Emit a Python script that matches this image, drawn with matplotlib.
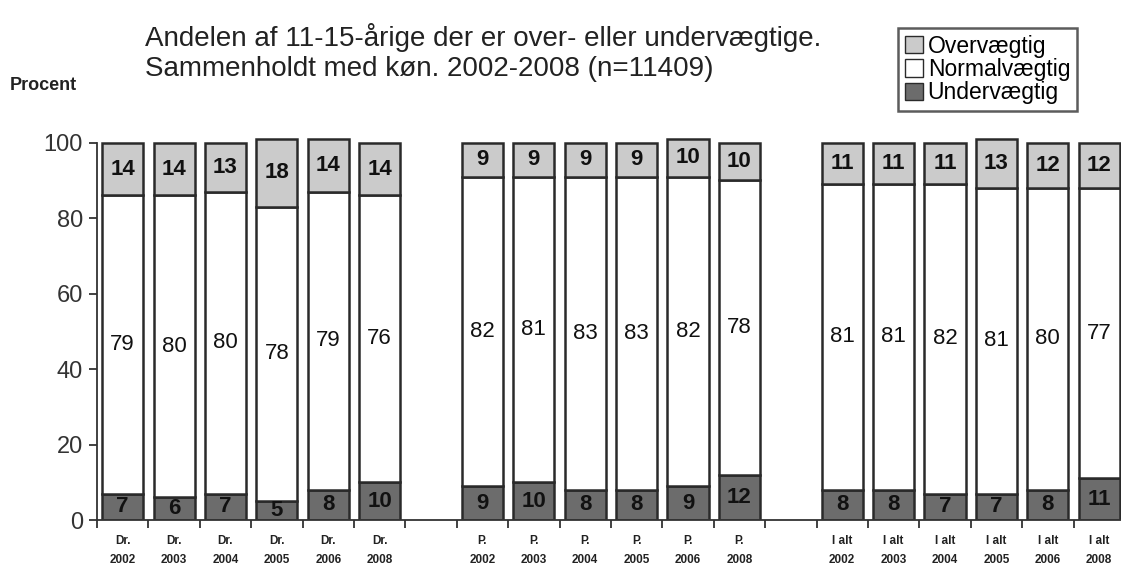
import matplotlib.pyplot as plt
import matplotlib.patches as mpatches

plt.rcParams['font.family'] = ['Liberation Sans', 'DejaVu Sans']

# data
groups = ['Dr.', 'P.', 'I alt']
years = ['2002', '2003', '2004', '2005', '2006', '2008']

under = {
    'Dr.': [7, 6, 7, 5, 8, 10],
    'P.': [9, 10, 8, 8, 9, 12],
    'I alt': [8, 8, 7, 7, 8, 11],
}
normal = {
    'Dr.': [79, 80, 80, 78, 79, 76],
    'P.': [82, 81, 83, 83, 82, 78],
    'I alt': [81, 81, 82, 81, 80, 77],
}
over = {
    'Dr.': [14, 14, 13, 18, 14, 14],
    'P.': [9, 9, 9, 9, 10, 10],
    'I alt': [11, 11, 11, 13, 12, 12],
}

c_under = '#6c6c6c'
c_normal = 'white'
c_over = '#cbcbcb'
edge = '#2a2a2a'

fig = plt.figure(figsize=(11.21, 5.76), dpi=100)
ax = fig.add_axes([0.0865, 0.0972, 0.917, 0.688])

xs, xlabels = [], []
pos = 0
for g in groups:
    for i, y in enumerate(years):
        u, n, o = under[g][i], normal[g][i], over[g][i]
        ax.bar(pos, u, width=0.8, color=c_under, edgecolor=edge, linewidth=1.8)
        ax.bar(pos, n, bottom=u, width=0.8, color=c_normal, edgecolor=edge, linewidth=1.8)
        ax.bar(pos, o, bottom=u + n, width=0.8, color=c_over, edgecolor=edge, linewidth=1.8)
        ax.text(pos, u / 2, str(u), ha='center', va='center', fontsize=16, fontweight='bold', color='#111')
        ax.text(pos, u + n / 2, str(n), ha='center', va='center', fontsize=16, color='#111')
        ax.text(pos, u + n + o / 2, str(o), ha='center', va='center', fontsize=16, fontweight='bold', color='#111')
        xs.append(pos)
        xlabels.append(g + '\n' + y)
        pos += 1
    pos += 1  # gap between groups

ax.set_xlim(-0.5, 19.5)
ax.set_ylim(0, 105)
ax.set_yticks([0, 20, 40, 60, 80, 100])
ax.tick_params(axis='y', labelsize=17, labelcolor='#333', length=6, width=1.3, color='#333', pad=4)

ax.set_xticks(xs)
ax.set_xticklabels(xlabels, fontsize=8.5, fontweight='bold', color='#222', linespacing=1.7)
ax.tick_params(axis='x', length=0, pad=11)
ax.set_xticks([k - 0.5 for k in range(21)], minor=True)
ax.tick_params(axis='x', which='minor', length=6, width=1.3, color='#333')

for s in ['top', 'right']:
    ax.spines[s].set_visible(False)
ax.spines['left'].set_bounds(0, 100)
ax.spines['left'].set_color('#333')
ax.spines['bottom'].set_color('#333')
ax.spines['left'].set_linewidth(1.3)
ax.spines['bottom'].set_linewidth(1.3)

fig.text(0.129, 0.96, 'Andelen af 11-15-årige der er over- eller undervægtige.\n'
         'Sammenholdt med køn. 2002-2008 (n=11409)',
         ha='left', va='top', fontsize=20, color='#222', linespacing=1.2)
fig.text(0.009, 0.852, 'Procent', ha='left', va='center', fontsize=13, fontweight='bold', color='#222')

handles = [mpatches.Patch(facecolor=c_over, edgecolor=edge, label='Overvægtig'),
           mpatches.Patch(facecolor=c_normal, edgecolor=edge, label='Normalvægtig'),
           mpatches.Patch(facecolor=c_under, edgecolor=edge, label='Undervægtig')]
leg = fig.legend(handles=handles, loc='upper left', bbox_to_anchor=(0.801, 0.952),
                 fontsize=16.5, frameon=True, fancybox=False, edgecolor='#333',
                 handlelength=0.8, handleheight=0.8, handletextpad=0.2,
                 labelspacing=0.02, borderpad=0.3, borderaxespad=0)
leg.get_frame().set_linewidth(1.8)

fig.savefig('out.png', dpi=100)
